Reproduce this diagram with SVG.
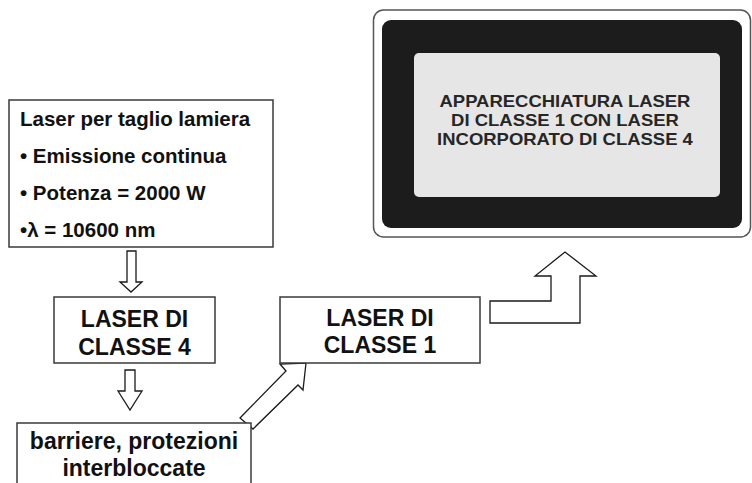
<svg xmlns="http://www.w3.org/2000/svg" width="752" height="483" viewBox="0 0 752 483">
<style>
.box{fill:#fff;stroke:#3a3a3a;stroke-width:1.5}
.arr{fill:#fff;stroke:#1a1a1a;stroke-width:1.3;stroke-linejoin:miter}
.t{font-family:"Liberation Sans",Arial,sans-serif;font-weight:bold;fill:#111}
.big{font-size:23px;text-anchor:middle}
.small{font-size:20.5px}
.sign{font-size:16.5px;text-anchor:middle;fill:#262626}
</style>
<rect width="752" height="483" fill="#fff"/>
<g id="connectors">
<polygon class="arr" points="127,251 136,251 136,282 142,282 131,292 120,282 127,282"/>
<polygon class="arr" points="125,370 135,370 135,391 142,391 130,410 118,391 125,391"/>
<polygon class="arr" points="240,418 286,371 280,364 306,363 303,390 298,385 253,429"/>
<polygon class="arr" points="490,323 490,301 551,301 551,276 535,276 565,252 596,276 580,276 580,323"/>
</g>
<g id="node-laser-taglio">
<rect class="box" x="9" y="100" width="264" height="147"/>
<text class="t small" x="20" y="126">Laser per taglio lamiera</text>
<text class="t small" x="20" y="163">• Emissione continua</text>
<text class="t small" x="20" y="200">• Potenza = 2000 W</text>
<text class="t small" x="20" y="237">•λ = 10600 nm</text>
</g>
<g id="node-classe4">
<rect class="box" x="54" y="297" width="161" height="66"/>
<text class="t big" x="134.5" y="327">LASER DI</text>
<text class="t big" x="134.5" y="355">CLASSE 4</text>
</g>
<g id="node-barriere">
<rect class="box" x="17" y="423" width="234" height="80"/>
<text class="t big" x="134" y="449">barriere, protezioni</text>
<text class="t big" x="134" y="476">interbloccate</text>
</g>
<g id="node-classe1">
<rect class="box" x="280" y="297" width="200" height="66"/>
<text class="t big" x="380" y="326">LASER DI</text>
<text class="t big" x="380" y="353">CLASSE 1</text>
</g>
<g id="node-sign">
<rect x="373.5" y="10" width="377" height="227" rx="10" fill="#fff" stroke="#555" stroke-width="1.5"/>
<rect x="382" y="20" width="360" height="208" rx="9" fill="#1c1c1c"/>
<rect x="414" y="53" width="306" height="144" rx="5" fill="#e6e6e6"/>
<g transform="translate(565,0) scale(1.12,1) translate(-565,0)">
<text class="t sign" x="565" y="107.5">APPARECCHIATURA LASER</text>
<text class="t sign" x="565" y="126">DI CLASSE 1 CON LASER</text>
<text class="t sign" x="565" y="145">INCORPORATO DI CLASSE 4</text>
</g>
</g>
</svg>
